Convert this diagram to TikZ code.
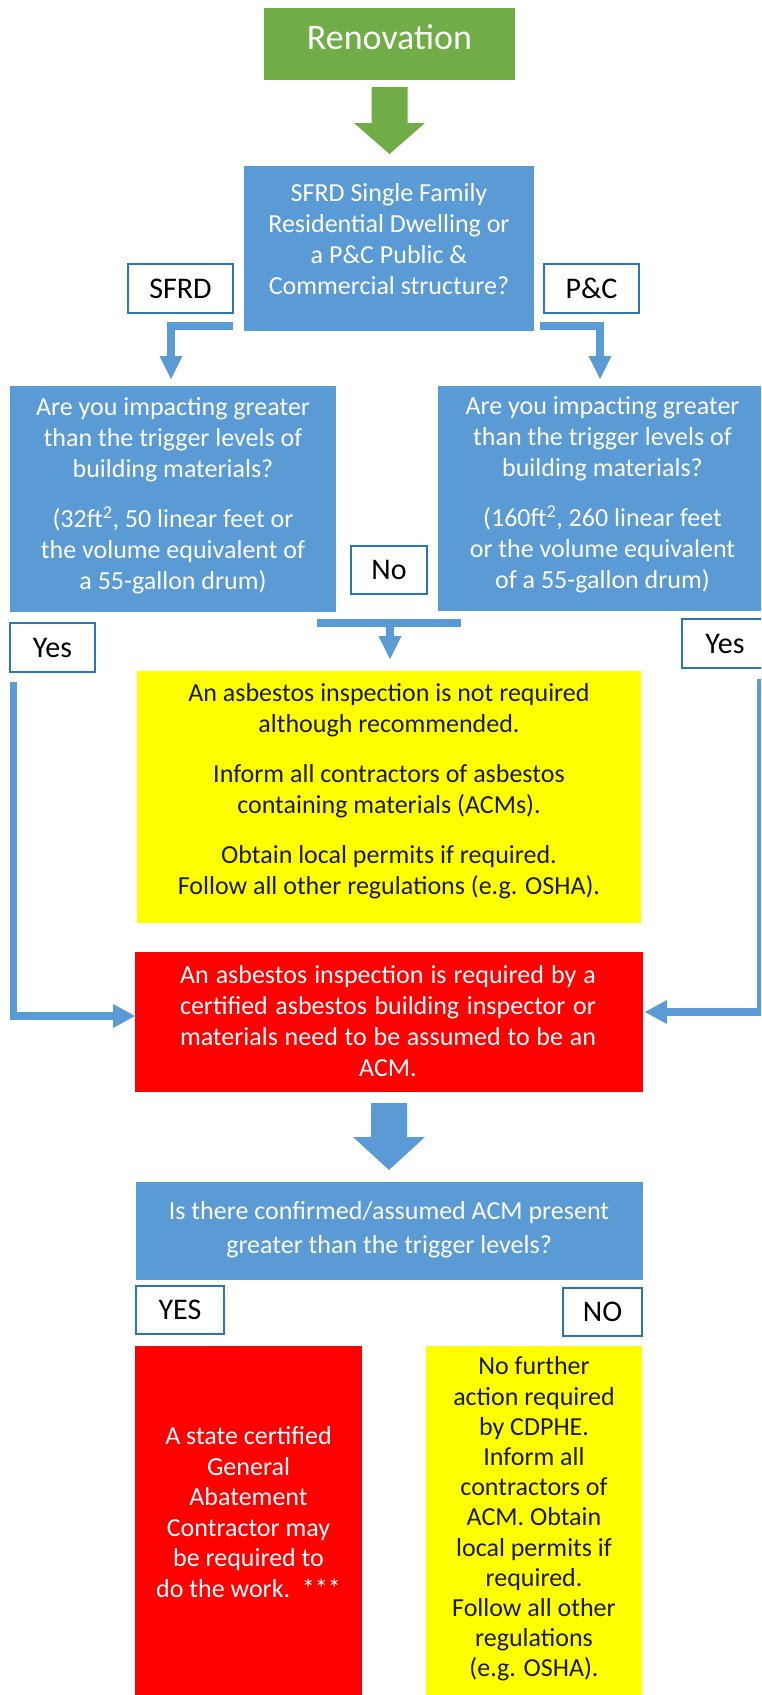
\documentclass[tikz,border=0pt]{standalone}
\usepackage{fontspec}
\setmainfont{Carlito}
\usetikzlibrary{calc}
\definecolor{gbox}{HTML}{70AD47}
\definecolor{bbox}{HTML}{5B9BD5}
\definecolor{rbox}{HTML}{FF0000}
\definecolor{ybox}{HTML}{FFFF00}
\definecolor{lblline}{HTML}{2E75B6}
\definecolor{ink}{HTML}{1A1A1A}
\begin{document}
\begin{tikzpicture}[x=1pt,y=-1pt,
  panel/.style={inner sep=0pt, outer sep=0pt, anchor=north west, draw=none},
  txt/.style={align=center, inner sep=0pt, font=\fontsize{26}{31}\selectfont},
  tag/.style={panel, draw=lblline, line width=1.4pt, fill=white,
              font=\fontsize{30}{36}\selectfont, text=black},
  bar/.style={draw=bbox, line width=8pt, line join=miter}
]
\useasboundingbox (0,0) rectangle (761,1695);
\clip (0,0) rectangle (761,1695);

% start
\node[panel, fill=gbox, minimum width=251pt, minimum height=72pt] (ren) at (264,8) {};
\node[txt, text=white, font=\fontsize{36}{43}\selectfont] (rent) at (389.5,37) {Renovation};

% building type question
\node[panel, fill=bbox, minimum width=290pt, minimum height=165pt] (q1) at (244,166) {};
\node[txt, text=white] (q1t) at (389,239) {SFRD Single Family\\Residential Dwelling or\\a P\&C Public \&\\Commercial structure?};
\node[tag, minimum width=105pt, minimum height=49pt] (sfrd) at (128,264) {SFRD};
\node[tag, minimum width=95pt, minimum height=49pt] (pc) at (544,264) {P\&C};

% trigger level questions
\node[panel, fill=bbox, minimum width=326pt, minimum height=226pt] (lq) at (10,386) {};
\node[txt, text=white] (lqt) at (173,496) {Are you impacting greater\\than the trigger levels of\\building materials?\\[19pt](32ft\textsuperscript{2}, 50 linear feet or\\the volume equivalent of\\a 55-gallon drum)};
\node[panel, fill=bbox, minimum width=329pt, minimum height=225pt] (rq) at (438,386) {};
\node[txt, text=white] (rqt) at (602.5,495) {Are you impacting greater\\than the trigger levels of\\building materials?\\[19pt](160ft\textsuperscript{2}, 260 linear feet\\or the volume equivalent\\of a 55-gallon drum)};
\node[tag, minimum width=76pt, minimum height=48pt] (no) at (351,546) {No};
\node[tag, minimum width=85pt, minimum height=49pt] (yesl) at (10,623) {Yes};
\node[tag, minimum width=86pt, minimum height=49pt] (yesr) at (682,619) {Yes};

% outcomes
\node[panel, fill=ybox, minimum width=504pt, minimum height=252pt] (y1) at (137,671) {};
\node[txt, text=ink] (y1t) at (389,791) {An asbestos inspection is not required\\although recommended.\\[19pt]Inform all contractors of asbestos\\containing materials (ACMs).\\[19pt]Obtain local permits if required.\\Follow all other regulations (e.g. OSHA).};
\node[panel, fill=rbox, minimum width=508pt, minimum height=140pt] (r1) at (135,952) {};
\node[txt, text=white] (r1t) at (388,1021) {\makebox[416pt][s]{An asbestos inspection is required by a}\\\makebox[416pt][s]{certified asbestos building inspector or}\\\makebox[416pt][s]{materials need to be assumed to be an}\\ACM.};

% ACM question
\node[panel, fill=bbox, minimum width=507pt, minimum height=98pt] (q3) at (136,1182) {};
\node[txt, text=white, font=\fontsize{26}{34}\selectfont] (q3t) at (389,1230) {Is there confirmed/assumed ACM present\\greater than the trigger levels?};
\node[tag, minimum width=88pt, minimum height=48pt] (yes3) at (136,1286) {YES};
\node[tag, minimum width=79pt, minimum height=48pt] (no3) at (563,1288) {NO};
\node[panel, fill=rbox, minimum width=227pt, minimum height=360pt] (r2) at (135,1346) {};
\node[txt, text=white, font=\fontsize{26}{30.6}\selectfont] (r2t) at (248.5,1512) {A state certified\\General\\Abatement\\Contractor may\\be required to\\do the work.\ \ ***};
\node[panel, fill=ybox, minimum width=216pt, minimum height=360pt] (y2) at (426,1346) {};
\node[txt, text=ink, font=\fontsize{26}{30.2}\selectfont] (y2t) at (534,1519) {No further\\action required\\by CDPHE.\\Inform all\\contractors of\\ACM. Obtain\\local permits if\\required.\\Follow all other\\regulations\\(e.g. OSHA).};

% block arrows
\fill[gbox, shift={(ren.south)}] (-18,7) -- (18,7) -- (18,43) -- (35.5,43) -- (0,74) -- (-35.5,43) -- (-18,43) -- cycle;
\fill[bbox, shift={(r1.south)}] (-18,11) -- (18,11) -- (18,45) -- (36,45) -- (0,78) -- (-36,45) -- (-18,45) -- cycle;

% SFRD branch
\draw[bar] ($(sfrd.south east)+(0,12.5)$) -| ($(lq.north west)+(161,-30)$);
\fill[bbox] ($(lq.north west)+(161,-7)$) -- ++(-11.5,-23) -- ++(23,0) -- cycle;
% P&C branch
\draw[bar] ($(pc.south west)+(-4,13)$) -| ($(rq.north west)+(162,-30)$);
\fill[bbox] ($(rq.north west)+(162,-7)$) -- ++(-11.5,-23) -- ++(23,0) -- cycle;

% No branch
\draw[bar] ($(y1.north)+(-72,-48)$) -- ($(y1.north)+(72,-48)$);
\draw[bar] ($(y1.north)+(1,-48)$) -- ($(y1.north)+(1,-35)$);
\fill[bbox] ($(y1.north)+(1,-12)$) -- ++(-11.5,-23) -- ++(23,0) -- cycle;

% Yes branches
\draw[bar, line width=7.5pt] ($(yesl.south west)+(3.5,10)$) |- ($(r1.west)+(-22,-6)$);
\fill[bbox] ($(r1.west)+(0,-6)$) -- ++(-22,-12) -- ++(0,24) -- cycle;
\draw[bar, line width=7.5pt] ($(yesr.south west)+(78.5,11)$) |- ($(r1.east)+(24,-10)$);
\fill[bbox] ($(r1.east)+(2,-10)$) -- ++(22,-12) -- ++(0,24) -- cycle;
\end{tikzpicture}
\end{document}
